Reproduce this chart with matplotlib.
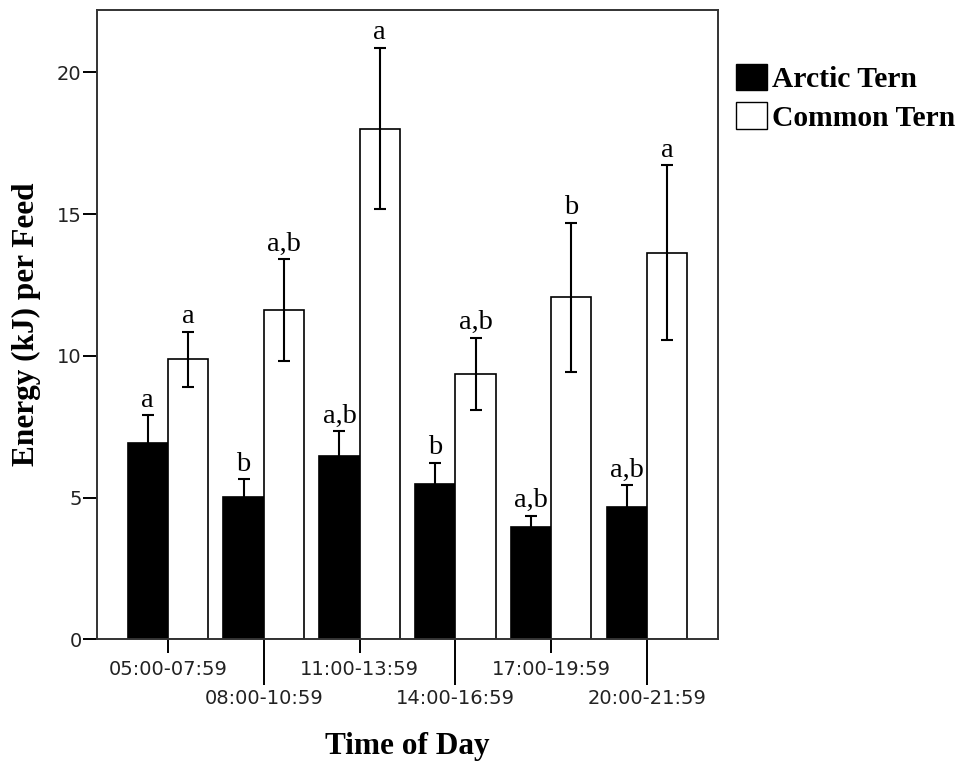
import numpy as np
import matplotlib
matplotlib.use("Agg")
import matplotlib.pyplot as plt
from matplotlib.patches import Patch

periods = ["05:00-07:59", "08:00-10:59", "11:00-13:59",
           "14:00-16:59", "17:00-19:59", "20:00-21:59"]
arctic = [6.93, 5.03, 6.48, 5.48, 3.97, 4.68]
arctic_err = [0.98, 0.61, 0.87, 0.75, 0.39, 0.75]
arctic_sig = ["a", "b", "a,b", "b", "a,b", "a,b"]
common = [9.88, 11.62, 18.02, 9.36, 12.06, 13.64]
common_err = [0.97, 1.79, 2.85, 1.28, 2.64, 3.08]
common_sig = ["a", "a,b", "a", "a,b", "b", "a"]

SERIF = "Liberation Serif"
SANS = "DejaVu Sans"

fig = plt.figure(figsize=(9.71, 7.65), dpi=100)
ax = fig.add_axes([0.0999, 0.1643, 0.6395, 0.8226])

x = np.arange(len(periods))
w = 0.42
ax.bar(x - w / 2, arctic, w, color="black", edgecolor="black", lw=1.2, zorder=2)
ax.bar(x + w / 2, common, w, color="white", edgecolor="black", lw=1.2, zorder=2)
ax.errorbar(x - w / 2, arctic, yerr=arctic_err, fmt="none", ecolor="black",
            elinewidth=1.5, capsize=4, capthick=1.5, zorder=3)
ax.errorbar(x + w / 2, common, yerr=common_err, fmt="none", ecolor="black",
            elinewidth=1.5, capsize=4, capthick=1.5, zorder=3)

for xi, v, e, s in zip(x - w / 2, arctic, arctic_err, arctic_sig):
    ax.annotate(s, (xi, v + e), xytext=(0, 6), textcoords="offset points",
                ha="center", va="baseline", family=SERIF, fontsize=20.5)
for xi, v, e, s in zip(x + w / 2, common, common_err, common_sig):
    ax.annotate(s, (xi, v + e), xytext=(0, 6), textcoords="offset points",
                ha="center", va="baseline", family=SERIF, fontsize=20.5)

ax.set_xlim(-0.74, 5.74)
ax.set_ylim(0, 22.2)
ax.set_yticks([0, 5, 10, 15, 20])
ax.tick_params(axis="y", length=10, width=1.4, labelsize=14, pad=1,
               labelfontfamily=SANS, labelcolor="#222222")

# alternating x tick labels: short ticks for even groups, long for odd
ax.set_xticks(x[::2])
ax.set_xticklabels(periods[::2])
ax.set_xticks(x[1::2], minor=True)
ax.set_xticklabels(periods[1::2], minor=True)
ax.tick_params(axis="x", which="major", length=10, width=1.4, labelsize=14,
               pad=5, labelfontfamily=SANS, labelcolor="#222222")
ax.tick_params(axis="x", which="minor", length=33, width=1.4, labelsize=14,
               pad=3, labelfontfamily=SANS, labelcolor="#222222")

for sp in ax.spines.values():
    sp.set_linewidth(1.4)
    sp.set_color("#333333")

ax.set_ylabel("Energy (kJ) per Feed", family=SERIF, fontweight="bold", fontsize=22.5)
ax.yaxis.set_label_coords(-0.113, 0.5)
ax.yaxis.label.set_va("center")
ax.set_xlabel("Time of Day", family=SERIF, fontweight="bold", fontsize=22.5)
ax.xaxis.set_label_coords(0.5, -0.171)
ax.xaxis.label.set_va("center")

handles = [Patch(facecolor="black", edgecolor="black", label="Arctic Tern"),
           Patch(facecolor="white", edgecolor="black", label="Common Tern")]
fig.legend(handles=handles, loc="upper left", bbox_to_anchor=(736 / 971, 1 - 64 / 765),
           frameon=False, borderpad=0, borderaxespad=0, handlelength=1.05,
           handleheight=1.0, handletextpad=0.15, labelspacing=0.3,
           prop={"family": SERIF, "weight": "bold", "size": 21.3})

plt.savefig("out.png", dpi=100)
plt.close()
